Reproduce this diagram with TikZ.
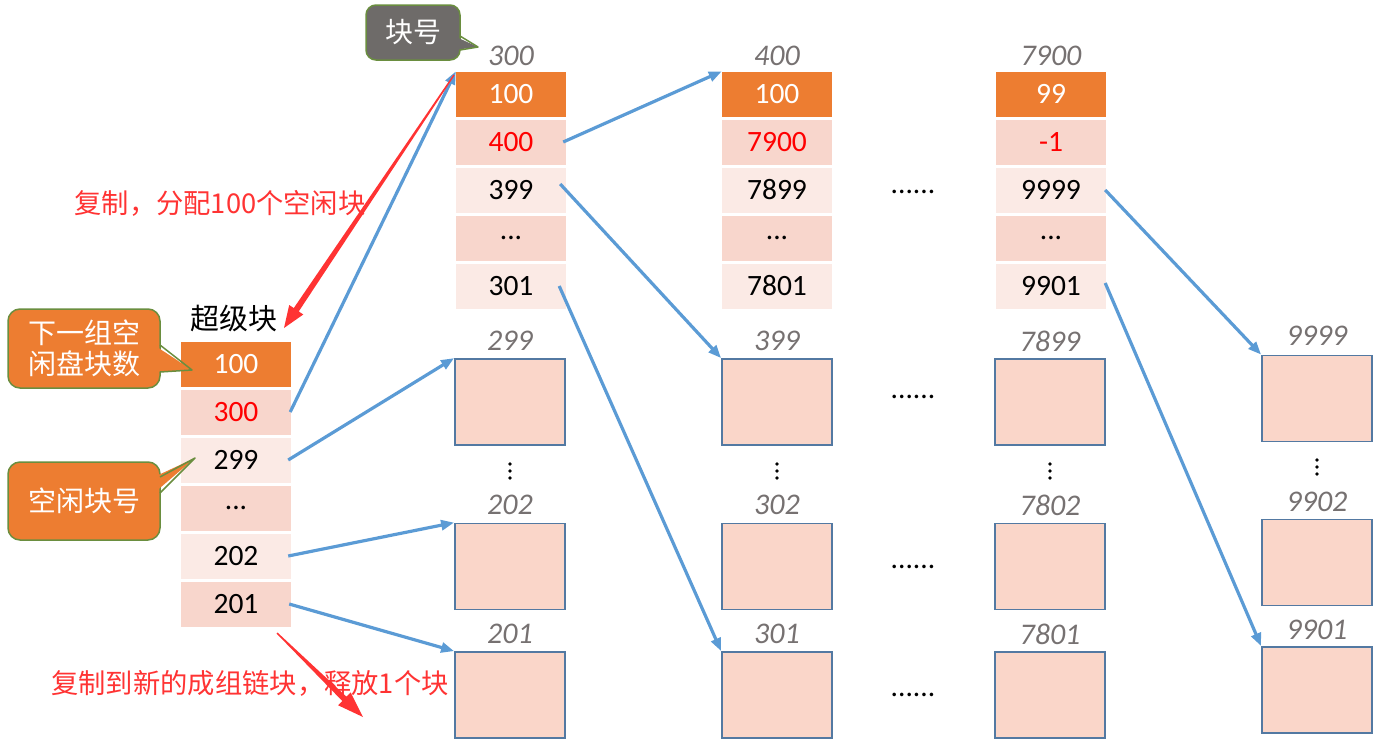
\documentclass[tikz,border=0pt]{standalone}
\usepackage{fontspec}
\setmainfont{Carlito}
\newfontfamily\cjk{Noto Sans CJK SC}
\usetikzlibrary{arrows.meta,calc}

\definecolor{accent}{HTML}{ED7D31}
\definecolor{rowdark}{HTML}{F8D6CC}
\definecolor{rowlight}{HTML}{FBEAE5}
\definecolor{boxfill}{HTML}{FAD6C9}
\definecolor{boxline}{HTML}{5379A2}
\definecolor{linkblue}{HTML}{5B9BD5}
\definecolor{note}{HTML}{FF3333}
\definecolor{calloutline}{HTML}{6A8E3F}
\definecolor{labelgray}{HTML}{767171}
\definecolor{tag}{HTML}{6E6B69}

\tikzset{
  cell/.style={minimum width=110pt, minimum height=45pt, inner sep=0pt,
               font=\fontsize{29.5}{31}\selectfont},
  headcell/.style={cell, fill=accent, text=white},
  darkcell/.style={cell, fill=rowdark},
  lightcell/.style={cell, fill=rowlight},
  diskblock/.style={draw=boxline, line width=1.8pt, fill=boxfill,
                    minimum width=110pt, minimum height=86pt, inner sep=0pt},
  blockno/.style={font=\fontsize{30}{32}\selectfont\itshape, text=labelgray},
  ptr/.style={draw=linkblue, line width=3.2pt, -{Triangle[length=13pt,width=10pt]}},
  bubble/.style={draw=calloutline, line width=1.5pt, rounded corners=12pt,
                 inner sep=0pt, text=white, align=center,
                 font=\cjk\fontsize{28}{31}\selectfont},
  remark/.style={text=note, font=\cjk\fontsize{27.3}{29}\selectfont},
  gap/.style={font=\fontsize{29.5}{31}\selectfont}
}

% tapered annotation arrow: thin at the start, wide near the head
\newcommand{\taperarrow}[4]{%
  \coordinate (tb) at ($(#2)!#3!(#1)$);
  \fill[note] ($(#1)!0.7pt!90:(#2)$) -- ($(tb)!3pt!90:(#2)$)
     -- ($(tb)!#4!90:(#2)$) -- (#2) -- ($(tb)!#4!-90:(#2)$)
     -- ($(tb)!3pt!-90:(#2)$) -- ($(#1)!0.7pt!-90:(#2)$) -- cycle;}

% three stacked dots
\newcommand{\stackdots}[2]{%
  \foreach \dy in {-7,0,7} \fill ($(#1,#2)+(0,\dy)$) circle (1.8pt);}

\begin{document}
\begin{tikzpicture}[x=1pt,y=-1pt]
\useasboundingbox (0,0) rectangle (1381,742);

% ---- superblock ----
\node[font=\cjk\fontsize{29}{30}\selectfont] (sbtitle) at (234,318) {超级块};
\node[headcell]  (s0) at (236,364) {100};
\node[darkcell,text=red] (s1) at (236,412) {300};
\node[lightcell] (s2) at (236,460) {299};
\node[darkcell]  (s3) at (236,508) {...};
\node[lightcell] (s4) at (236,556) {202};
\node[darkcell]  (s5) at (236,604) {201};

% ---- group block 300 ----
\node[blockno] (la) at (511,56) {300};
\node[headcell]  (a0) at (511,94)  {100};
\node[darkcell,text=red] (a1) at (511,142) {400};
\node[lightcell] (a2) at (511,190) {399};
\node[darkcell]  (a3) at (511,238) {...};
\node[lightcell] (a4) at (511,286) {301};

% ---- group block 400 ----
\node[blockno] (lb) at (777,56) {400};
\node[headcell]  (b0) at (777,94)  {100};
\node[darkcell,text=red] (b1) at (777,142) {7900};
\node[lightcell] (b2) at (777,190) {7899};
\node[darkcell]  (b3) at (777,238) {...};
\node[lightcell] (b4) at (777,286) {7801};

% ---- group block 7900 ----
\node[blockno] (lc) at (1051,56) {7900};
\node[headcell]  (c0) at (1051,94)  {99};
\node[darkcell,text=red] (c1) at (1051,142) {-1};
\node[lightcell] (c2) at (1051,190) {9999};
\node[darkcell]  (c3) at (1051,238) {...};
\node[lightcell] (c4) at (1051,286) {9901};

% ---- free blocks ----
\node[blockno] (lp1) at (510,341) {299};
\node[diskblock] (p1) at (510,402) {};
\node[blockno] (lp2) at (510,505) {202};
\node[diskblock] (p2) at (510,566.5) {};
\node[blockno] (lp3) at (510,634) {201};
\node[diskblock] (p3) at (510,695) {};
\stackdots{510}{471}

\node[blockno] (lq1) at (777,341) {399};
\node[diskblock] (q1) at (777,402) {};
\node[blockno] (lq2) at (777,505) {302};
\node[diskblock] (q2) at (777,566.5) {};
\node[blockno] (lq3) at (777,634) {301};
\node[diskblock] (q3) at (777,695) {};
\stackdots{777}{471}

\node[blockno] (lt1) at (1050,341) {7899};
\node[diskblock] (t1) at (1050,402) {};
\node[blockno] (lt2) at (1050,505) {7802};
\node[diskblock] (t2) at (1050,566.5) {};
\node[blockno] (lt3) at (1050,634) {7801};
\node[diskblock] (t3) at (1050,695) {};
\stackdots{1050}{471}

\node[blockno] (lr1) at (1317,336) {9999};
\node[diskblock] (r1) at (1317,398.5) {};
\node[blockno] (lr2) at (1317,502) {9902};
\node[diskblock] (r2) at (1317,562.5) {};
\node[blockno] (lr3) at (1317,630) {9901};
\node[diskblock] (r3) at (1317,690) {};
\stackdots{1317}{467}

% ---- elided groups ----
\node[gap] (g1) at (913,192) {......};
\node[gap] (g2) at (913,397) {......};
\node[gap] (g3) at (913,567) {......};
\node[gap] (g4) at (913,695) {......};

% ---- pointers ----
\draw[ptr] ([xshift=-1pt]s1.east) -- (a0.north west);
\draw[ptr] ([xshift=-3pt]s2.east) -- (p1.north west);
\draw[ptr] ([xshift=-3pt]s4.east) -- (p2.north west);
\draw[ptr] ([xshift=-2pt]s5.east) -- (p3.north west);
\draw[ptr] ([xshift=-3pt]a1.east) -- (b0.north west);
\draw[ptr] ([xshift=-6pt,yshift=6pt]a2.east) -- (q1.north west);
\draw[ptr] ([xshift=-7pt]a4.east) -- (q3.north west);
\draw[ptr] ([xshift=-1pt]c2.east) -- (r1.north west);
\draw[ptr] ([xshift=-1pt,yshift=3pt]c4.east) -- (r3.north west);

% ---- callouts ----
\node[bubble, fill=accent, minimum width=152pt, minimum height=79pt]
  (cnt) at (84,348.5) {下一组空\\闲盘块数};
\fill[accent] (154,345) -- (192,370) -- (154,372) -- cycle;
\draw[calloutline, line width=1.5pt, line join=round] (160,345) -- (192,370) -- (160,372);

\node[bubble, fill=accent, minimum width=152pt, minimum height=78pt]
  (freeno) at (84,501) {空闲块号};
\fill[accent] (154,477) -- (195,458) -- (154,493) -- cycle;
\draw[calloutline, line width=1.5pt, line join=round] (160,477) -- (195,458) -- (160,493);

\node[bubble, fill=tag, rounded corners=10pt, minimum width=94pt, minimum height=55pt]
  (blkno) at (413,32.5) {块号};
\fill[tag] (454,36) -- (478,47) -- (454,50) -- cycle;
\draw[calloutline, line width=1.5pt, line join=round] (460,36) -- (478,47) -- (460,50);

% ---- annotations ----
\node[remark] (copy1) at (220,203) {复制，分配100个空闲块};
\node[remark] (copy2) at (250,683) {复制到新的成组链块，释放1个块};

\coordinate (r1s) at (454,75);
\coordinate (r1e) at (284,328);
\taperarrow{r1s}{r1e}{22pt}{8.5pt}
\coordinate (r2s) at (277,633);
\coordinate (r2e) at (363,717);
\taperarrow{r2s}{r2e}{26pt}{9pt}
\end{tikzpicture}
\end{document}
